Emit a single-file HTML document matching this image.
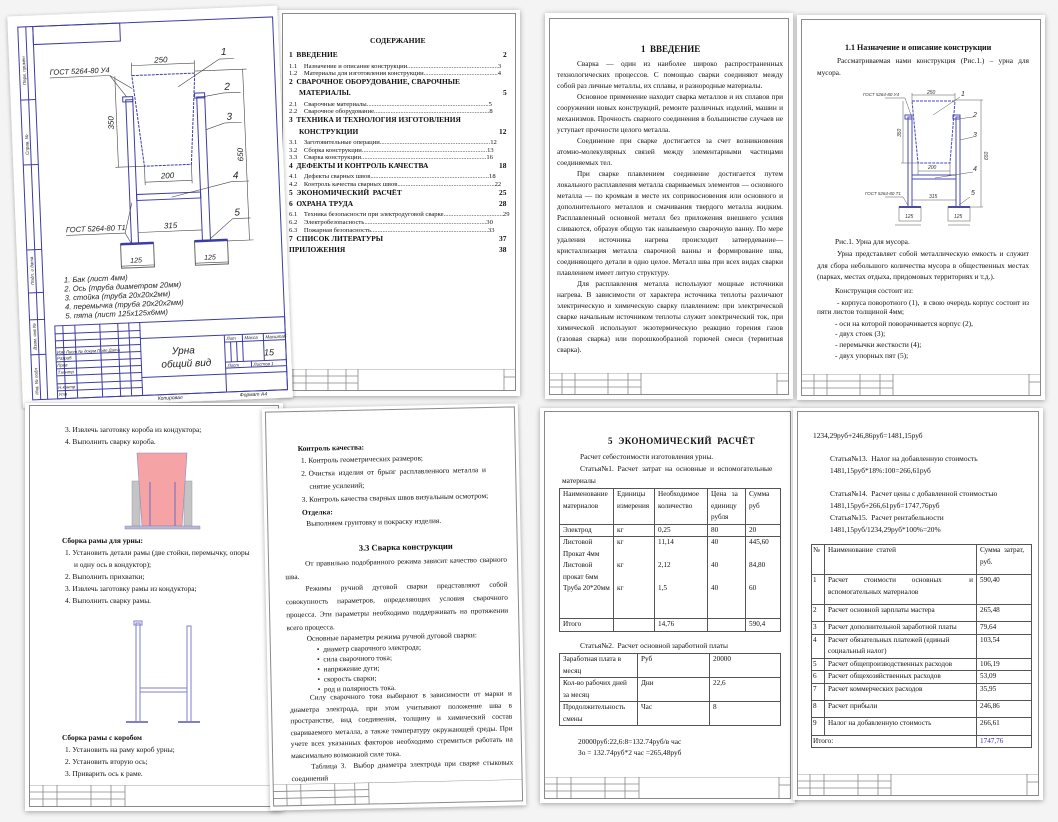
<!DOCTYPE html>
<html><head><meta charset="utf-8">
<style>
*{margin:0;padding:0;box-sizing:border-box}
body{width:1058px;height:822px;background:#f4f4f4;position:relative;overflow:hidden;font-family:"Liberation Serif","Noto Serif CJK SC",serif;color:#111}
.pg{position:absolute;background:#fff;box-shadow:0 1px 5px rgba(0,0,0,.35)}
.fr{position:absolute;border:1px solid #8a8a8a}
.t{position:absolute;white-space:nowrap;font-size:7.4px;line-height:9px}
.b{font-weight:bold}
.p{position:absolute;font-size:7.3px;line-height:11.5px;text-align:justify}
.p .i{display:inline-block;width:20px}
.ft{position:absolute;height:22px}
table{position:absolute;border-collapse:collapse;font-size:7.2px;line-height:11.5px}
td{border:1px solid #555;vertical-align:top;padding:0 3px}
</style></head><body>

<!-- PAGE 2 : TOC -->
<div class="pg" style="left:277px;top:10px;width:243px;height:386px">
 <div class="fr" style="left:5px;top:3px;width:234px;height:378px"></div>
 <div class="t b" style="left:93px;top:26px;font-size:7.6px">СОДЕРЖАНИЕ</div>
 <div class="t b" style="left:12px;top:40px">1&nbsp;&nbsp;ВВЕДЕНИЕ</div><div class="t b" style="left:226px;top:40px">2</div>
 <div class="t" style="left:12px;top:52px;font-size:6.6px">1.1&nbsp;&nbsp;&nbsp;&nbsp;Назначение и описание конструкции.......................................................3</div>
 <div class="t" style="left:12px;top:59px;font-size:6.6px">1.2&nbsp;&nbsp;&nbsp;&nbsp;Материалы для изготовления конструкции.............................................4</div>
 <div class="t b" style="left:12px;top:67px">2&nbsp;&nbsp;СВАРОЧНОЕ ОБОРУДОВАНИЕ, СВАРОЧНЫЕ</div>
 <div class="t b" style="left:22px;top:78px">МАТЕРИАЛЫ.</div><div class="t b" style="left:226px;top:78px">5</div>
 <div class="t" style="left:12px;top:90px;font-size:6.6px">2.1&nbsp;&nbsp;&nbsp;&nbsp;Сварочные материалы..........................................................................5</div>
 <div class="t" style="left:12px;top:97px;font-size:6.6px">2.2&nbsp;&nbsp;&nbsp;&nbsp;Сварочное оборудование......................................................................8</div>
 <div class="t b" style="left:12px;top:105px">3&nbsp;&nbsp;ТЕХНИКА И ТЕХНОЛОГИЯ ИЗГОТОВЛЕНИЯ</div>
 <div class="t b" style="left:22px;top:117px">КОНСТРУКЦИИ</div><div class="t b" style="left:222px;top:117px">12</div>
 <div class="t" style="left:12px;top:128px;font-size:6.6px">3.1&nbsp;&nbsp;&nbsp;&nbsp;Заготовительные операции...................................................................12</div>
 <div class="t" style="left:12px;top:136px;font-size:6.6px">3.2&nbsp;&nbsp;&nbsp;&nbsp;Сборка конструкции............................................................................13</div>
 <div class="t" style="left:12px;top:143px;font-size:6.6px">3.3&nbsp;&nbsp;&nbsp;&nbsp;Сварка конструкции............................................................................16</div>
 <div class="t b" style="left:12px;top:151px">4&nbsp;&nbsp;ДЕФЕКТЫ И КОНТРОЛЬ КАЧЕСТВА</div><div class="t b" style="left:222px;top:151px">18</div>
 <div class="t" style="left:12px;top:162px;font-size:6.6px">4.1&nbsp;&nbsp;&nbsp;&nbsp;Дефекты сварных швов........................................................................18</div>
 <div class="t" style="left:12px;top:170px;font-size:6.6px">4.2&nbsp;&nbsp;&nbsp;&nbsp;Контроль качества сварных швов...........................................................22</div>
 <div class="t b" style="left:12px;top:178px">5&nbsp;&nbsp;ЭКОНОМИЧЕСКИЙ&nbsp; РАСЧЁТ</div><div class="t b" style="left:222px;top:178px">25</div>
 <div class="t b" style="left:12px;top:189px">6&nbsp;&nbsp;ОХРАНА ТРУДА</div><div class="t b" style="left:222px;top:189px">28</div>
 <div class="t" style="left:12px;top:200px;font-size:6.6px">6.1&nbsp;&nbsp;&nbsp;&nbsp;Техника безопасности при электродуговой сварке....................................29</div>
 <div class="t" style="left:12px;top:208px;font-size:6.6px">6.2&nbsp;&nbsp;&nbsp;&nbsp;Электробезопасность..........................................................................30</div>
 <div class="t" style="left:12px;top:216px;font-size:6.6px">6.3&nbsp;&nbsp;&nbsp;&nbsp;Пожарная безопасность.......................................................................33</div>
 <div class="t b" style="left:12px;top:224px">7&nbsp;&nbsp;СПИСОК ЛИТЕРАТУРЫ</div><div class="t b" style="left:222px;top:224px">37</div>
 <div class="t b" style="left:12px;top:235px">ПРИЛОЖЕНИЯ</div><div class="t b" style="left:222px;top:235px">38</div>
 <svg class="ft" style="left:5px;top:359px" width="234" height="22" viewBox="0 0 234 22" preserveAspectRatio="none"><g stroke="#888" stroke-width=".8" fill="none"><line x1="0" y1="0" x2="234" y2="0"/><line x1="0" y1="7" x2="76" y2="7"/><line x1="0" y1="14" x2="76" y2="14"/><line x1="11" y1="0" x2="11" y2="22"/><line x1="24" y1="0" x2="24" y2="22"/><line x1="46" y1="0" x2="46" y2="22"/><line x1="64" y1="0" x2="64" y2="22"/><line x1="76" y1="0" x2="76" y2="22"/><line x1="222" y1="0" x2="222" y2="22"/><line x1="222" y1="8" x2="234" y2="8"/></g></svg>
</div>

<!-- PAGE 1 : Drawing -->
<svg style="position:absolute;left:0;top:0" width="300" height="410" viewBox="0 0 300 410">
 <defs><filter id="sh" x="-5%" y="-5%" width="110%" height="110%"><feDropShadow dx="0" dy="1" stdDeviation="2" flood-opacity=".35"/></filter></defs>
 <g transform="rotate(-2.3 150 205)">
  <rect x="15" y="11" width="270" height="392" fill="#fff" filter="url(#sh)"/>
  <g stroke="#3c3ca8" stroke-width="1" fill="none">
   <rect x="25" y="22" width="255" height="373"/>
   <line x1="33" y1="22" x2="33" y2="395"/><line x1="40" y1="22" x2="40" y2="395"/>
   <line x1="25" y1="95" x2="40" y2="95"/><line x1="25" y1="160" x2="40" y2="160"/><line x1="25" y1="245" x2="40" y2="245"/><line x1="25" y1="288" x2="40" y2="288"/><line x1="25" y1="315" x2="40" y2="315"/><line x1="25" y1="350" x2="40" y2="350"/>
   <rect x="40" y="22" width="87" height="18"/>
   <rect x="50" y="322" width="230" height="73"/>
   <line x1="135" y1="322" x2="135" y2="395"/>
   <line x1="135" y1="338" x2="280" y2="338"/>
   <line x1="135" y1="377" x2="280" y2="377"/>
   <line x1="219" y1="338" x2="219" y2="395"/>
   <line x1="58" y1="322" x2="58" y2="395"/><line x1="70" y1="322" x2="70" y2="395"/><line x1="95" y1="322" x2="95" y2="395"/><line x1="113" y1="322" x2="113" y2="395"/><line x1="124" y1="322" x2="124" y2="395"/>
   <line x1="50" y1="330" x2="135" y2="330"/><line x1="50" y1="337" x2="135" y2="337"/><line x1="50" y1="344" x2="135" y2="344"/><line x1="50" y1="351" x2="135" y2="351"/><line x1="50" y1="358" x2="135" y2="358"/><line x1="50" y1="365" x2="135" y2="365"/><line x1="50" y1="372" x2="135" y2="372"/><line x1="50" y1="380" x2="135" y2="380"/><line x1="50" y1="387" x2="135" y2="387"/>
   <line x1="219" y1="345" x2="280" y2="345"/><line x1="219" y1="365" x2="280" y2="365"/>
   <line x1="225" y1="345" x2="225" y2="365"/><line x1="231" y1="345" x2="231" y2="365"/><line x1="237" y1="338" x2="237" y2="365"/><line x1="258" y1="338" x2="258" y2="365"/><line x1="245" y1="365" x2="245" y2="371"/><line x1="219" y1="371" x2="280" y2="371"/>
   <polygon points="137,75 200,75 193,166 146,166" stroke-dasharray="3 1"/>
   <rect x="130" y="99" width="7" height="144"/><rect x="201" y="99" width="8" height="144"/>
   <rect x="127" y="96" width="10" height="5"/><rect x="199" y="95" width="10" height="5"/>
   <rect x="137" y="194" width="64" height="6"/>
   <rect x="119" y="243" width="33" height="24" stroke="#666"/><rect x="193" y="243" width="33" height="24" stroke="#666"/>
   <line x1="119" y1="243" x2="152" y2="243" stroke-width="2.5"/><line x1="193" y1="243" x2="226" y2="243" stroke-width="2.5"/>
  </g>
  <g stroke="#444" stroke-width=".6" fill="none">
   <line x1="137" y1="75" x2="137" y2="62"/><line x1="200" y1="75" x2="200" y2="62"/><line x1="137" y1="65" x2="200" y2="65"/>
   <line x1="146" y1="166" x2="146" y2="185"/><line x1="193" y1="166" x2="193" y2="185"/><line x1="146" y1="182" x2="193" y2="182"/>
   <line x1="137" y1="232" x2="201" y2="232"/>
   <line x1="200" y1="73" x2="252" y2="73"/><line x1="226" y1="244" x2="252" y2="244"/><line x1="248" y1="73" x2="248" y2="244"/>
   <line x1="120" y1="75" x2="120" y2="166"/><line x1="117" y1="166" x2="146" y2="166"/>
   <line x1="119" y1="265" x2="152" y2="265"/><line x1="193" y1="265" x2="226" y2="265"/>
   <line x1="55" y1="74" x2="115" y2="74"/><line x1="115" y1="74" x2="131" y2="96"/><line x1="115" y1="74" x2="137" y2="88"/>
   <line x1="65" y1="232" x2="124" y2="232"/><line x1="124" y1="232" x2="130" y2="243"/><line x1="124" y1="232" x2="132" y2="202"/>
   <line x1="183" y1="88" x2="225" y2="62"/><line x1="225" y1="62" x2="240" y2="62"/>
   <line x1="207" y1="99" x2="228" y2="96"/><line x1="228" y1="96" x2="245" y2="96"/>
   <line x1="209" y1="132" x2="228" y2="126"/><line x1="228" y1="126" x2="245" y2="126"/>
   <line x1="172" y1="198" x2="232" y2="185"/><line x1="232" y1="185" x2="250" y2="185"/>
   <line x1="209" y1="241" x2="232" y2="222"/><line x1="232" y1="222" x2="250" y2="222"/>
  </g>
  <g font-family="Liberation Sans,sans-serif" font-style="italic" fill="#222" font-size="8">
   <text x="160" y="63">250</text><text x="162" y="179">200</text><text x="163" y="229">315</text>
   <text x="128" y="262" font-size="7">125</text><text x="202" y="262" font-size="7">125</text>
   <text transform="translate(245 165) rotate(-90)">650</text><text transform="translate(117 128) rotate(-90)">350</text>
   <text x="55" y="71" font-size="7.5">ГОСТ 5264-80 У4</text><text x="65" y="229" font-size="7.5">ГОСТ 5264-80 Т1</text>
   <text x="227" y="58" font-size="10">1</text><text x="229" y="93" font-size="10">2</text><text x="230" y="123" font-size="10">3</text><text x="234" y="182" font-size="10">4</text><text x="234" y="219" font-size="10">5</text>
   <text x="61" y="279" font-size="7.6">1. Бак (лист 4мм)</text>
   <text x="61" y="288" font-size="7.6">2. Ось (труба диаметром 20мм)</text>
   <text x="61" y="297" font-size="7.6">3. стойка (труба 20х20х2мм)</text>
   <text x="61" y="306" font-size="7.6">4. перемычка (труба 20х20х2мм)</text>
   <text x="61" y="315" font-size="7.6">5. пята (лист 125х125х6мм)</text>
   <text x="166" y="355" font-size="10">Урна</text><text x="155" y="368" font-size="10">общий вид</text>
   <text x="258" y="360" font-size="9">15</text>
   <text x="221" y="343" font-size="4.5">Лит</text><text x="239" y="343" font-size="4.5">Масса</text><text x="260" y="343" font-size="4.5">Масштаб</text>
   <text x="221" y="370" font-size="4.5">Лист</text><text x="247" y="370" font-size="4.5">Листов 1</text>
   <text x="51" y="350" font-size="4.3">Изм Лист  № докум  Подп Дата</text>
   <text x="51" y="356" font-size="4.3">Разраб</text><text x="51" y="363" font-size="4.3">Пров</text><text x="51" y="370" font-size="4.3">Т.контр</text><text x="51" y="385" font-size="4.3">Н.контр</text><text x="51" y="392" font-size="4.3">Утв</text>
   <text x="150" y="400" font-size="5">Копировал</text><text x="232" y="400" font-size="5">Формат  А4</text>
   <text transform="translate(31 80) rotate(-90)" font-size="4.5">Перв. примен</text>
   <text transform="translate(31 150) rotate(-90)" font-size="4.5">Справ. №</text>
   <text transform="translate(31 280) rotate(-90)" font-size="4.5">Подп. и дата</text>
   <text transform="translate(31 345) rotate(-90)" font-size="4.5">Взам. инв №</text>
   <text transform="translate(31 390) rotate(-90)" font-size="4.5">Инв. № подл</text>
  </g>
 </g>
</svg>

<!-- PAGE 3 : Введение -->
<div class="pg" style="left:545px;top:13px;width:248px;height:386px">
 <div class="fr" style="left:4px;top:5px;width:240px;height:377px"></div>
 <div class="t b" style="left:96px;top:32px;font-size:9px">1&nbsp; ВВЕДЕНИЕ</div>
 <div class="p" style="left:12px;top:45px;width:226px;line-height:11px"><span class="i"></span>Сварка — один из наиболее широко распространенных технологических процессов. С помощью сварки соединяют между собой раз личные металлы, их сплавы, и разнородные материалы.<br><span class="i"></span>Основное применение находит сварка металлов и их сплавов при сооружении новых конструкций, ремонте различных изделий, машин и механизмов. Прочность сварного соединения в большинстве случаев не уступает прочности целого металла.<br><span class="i"></span>Соединение при сварке достигается за счет возникновения атомно-молекулярных связей между элементарными частицами соединяемых тел.<br><span class="i"></span>При сварке плавлением соединение достигается путем локального расплавления металла свариваемых элементов — основного металла — по кромкам в месте их соприкосновения или основного и дополнительного металлов и смачивания твердого металла жидким. Расплавленный основной металл без приложения внешнего усилия сливаются, образуя общую так называемую сварочную ванну. По мере удаления источника нагрева происходит затвердевание—кристаллизация металла сварочной ванны и формирование шва, соединяющего детали в одно целое. Металл шва при всех видах сварки плавлением имеет литую структуру.<br><span class="i"></span>Для расплавления металла используют мощные источники нагрева. В зависимости от характера источника теплоты различают электрическую и химическую сварку плавлением: при электрической сварке начальным источником теплоты служит электрический ток, при химической используют экзотермическую реакцию горения газов (газовая сварка) или порошкообразной горючей смеси (термитная сварка).</div>
 <svg class="ft" style="left:4px;top:360px" width="240" height="22" viewBox="0 0 240 22" preserveAspectRatio="none"><g stroke="#888" stroke-width=".8" fill="none"><line x1="0" y1="0" x2="240" y2="0"/><line x1="0" y1="7" x2="92" y2="7"/><line x1="0" y1="14" x2="92" y2="14"/><line x1="13" y1="0" x2="13" y2="22"/><line x1="26" y1="0" x2="26" y2="22"/><line x1="59" y1="0" x2="59" y2="22"/><line x1="79" y1="0" x2="79" y2="22"/><line x1="92" y1="0" x2="92" y2="22"/><line x1="228" y1="0" x2="228" y2="22"/><line x1="228" y1="8" x2="240" y2="8"/></g></svg>
</div>

<!-- PAGE 4 : 1.1 -->
<div class="pg" style="left:797px;top:15px;width:248px;height:385px">
 <div class="fr" style="left:4px;top:4px;width:240px;height:377px"></div>
 <div class="t b" style="left:48px;top:28px;font-size:8px">1.1 Назначение и описание конструкции</div>
 <div class="p" style="left:20px;top:40px;width:212px"><span class="i"></span>Рассматриваемая нами конструкция (Рис.1.) – урна для мусора.</div>
 <svg style="position:absolute;left:58px;top:70px" width="150" height="150" viewBox="0 0 150 150">
  <g stroke="#4a4ab8" stroke-width="1" fill="none">
   <polygon points="57,16 100,16 95,78 63,78" stroke-dasharray="3 1"/>
   <rect x="53" y="32" width="4" height="90"/><rect x="101" y="32" width="4" height="90"/>
   <rect x="50" y="30" width="7" height="4"/><rect x="98" y="30" width="7" height="4"/>
   <rect x="57" y="90" width="44" height="4"/>
   <line x1="44" y1="122" x2="66" y2="122" stroke-width="2"/><line x1="93" y1="122" x2="115" y2="122" stroke-width="2"/>
  </g>
  <g stroke="#555" stroke-width=".5" fill="none">
   <rect x="44" y="122" width="22" height="14"/><rect x="93" y="122" width="22" height="14"/>
   <line x1="57" y1="10" x2="100" y2="10"/><line x1="57" y1="8" x2="57" y2="16"/><line x1="100" y1="8" x2="100" y2="16"/>
   <line x1="63" y1="78" x2="63" y2="90"/><line x1="95" y1="78" x2="95" y2="90"/><line x1="63" y1="86" x2="95" y2="86"/>
   <line x1="57" y1="115" x2="101" y2="115"/>
   <line x1="100" y1="15" x2="128" y2="15"/><line x1="115" y1="122" x2="128" y2="122"/><line x1="126" y1="15" x2="126" y2="122"/>
   <line x1="48" y1="16" x2="48" y2="78"/><line x1="46" y1="78" x2="63" y2="78"/>
   <line x1="40" y1="140" x2="66" y2="140"/><line x1="93" y1="140" x2="115" y2="140"/>
   <line x1="30" y1="13" x2="50" y2="13"/><line x1="50" y1="13" x2="56" y2="30"/>
   <line x1="30" y1="112" x2="48" y2="112"/><line x1="48" y1="112" x2="54" y2="122"/>
   <line x1="78" y1="30" x2="105" y2="12"/><line x1="103" y1="34" x2="118" y2="32"/><line x1="105" y1="55" x2="118" y2="52"/><line x1="80" y1="93" x2="118" y2="87"/><line x1="104" y1="120" x2="115" y2="112"/>
  </g>
  <g font-family="Liberation Sans,sans-serif" font-style="italic" fill="#333" font-size="5">
   <text x="72" y="9">250</text><text x="73" y="84">200</text><text x="74" y="113">315</text>
   <text x="50" y="133">125</text><text x="99" y="133">125</text>
   <text x="8" y="11" font-size="4.5">ГОСТ 5264-80 У4</text><text x="10" y="110" font-size="4.5">ГОСТ 5264-80 Т1</text>
   <text x="106" y="11" font-size="7">1</text><text x="118" y="32" font-size="7">2</text><text x="118" y="52" font-size="7">3</text><text x="118" y="86" font-size="7">4</text><text x="116" y="110" font-size="7">5</text>
   <text transform="translate(133 75) rotate(-90)">650</text><text transform="translate(46 52) rotate(-90)">350</text>
  </g>
 </svg>
 <div class="t" style="left:38px;top:222px">Рис.1. Урна для мусора.</div>
 <div class="p" style="left:20px;top:233px;width:212px"><span class="i"></span>Урна представляет собой металлическую емкость и служит для сбора небольшого количества мусора в общественных местах (парках, местах отдыха, придомовых территориях и т.д.).</div>
 <div class="t" style="left:38px;top:271px">Конструкция состоит из:</div>
 <div class="p" style="left:20px;top:284px;width:212px;line-height:8.5px"><span class="i"></span>- корпуса поворотного (1),&nbsp; в свою очередь корпус состоит из пяти листов толщиной 4мм;</div>
 <div class="t" style="left:38px;top:304px">- оси на которой поворачивается корпус (2),</div>
 <div class="t" style="left:38px;top:314px">- двух стоек (3);</div>
 <div class="t" style="left:38px;top:325px">- перемычки жесткости (4);</div>
 <div class="t" style="left:38px;top:336px">- двух упорных пят (5);</div>
 <svg class="ft" style="left:4px;top:359px" width="240" height="22" viewBox="0 0 240 22" preserveAspectRatio="none"><g stroke="#888" stroke-width=".8" fill="none"><line x1="0" y1="0" x2="240" y2="0"/><line x1="0" y1="7" x2="92" y2="7"/><line x1="0" y1="14" x2="92" y2="14"/><line x1="13" y1="0" x2="13" y2="22"/><line x1="26" y1="0" x2="26" y2="22"/><line x1="59" y1="0" x2="59" y2="22"/><line x1="79" y1="0" x2="79" y2="22"/><line x1="92" y1="0" x2="92" y2="22"/><line x1="228" y1="0" x2="228" y2="22"/><line x1="228" y1="8" x2="240" y2="8"/></g></svg>
</div>

<!-- PAGE 5 -->
<div class="pg" style="left:25px;top:403px;width:258px;height:408px">
 <div class="fr" style="left:4px;top:2px;width:250px;height:402px"></div>
 <div class="t" style="left:40px;top:22px">3. Извлечь заготовку короба из кондуктора;</div>
 <div class="t" style="left:40px;top:34px">4. Выполнить сварку короба.</div>
 <svg style="position:absolute;left:95px;top:45px" width="90" height="85">
  <rect x="12" y="33" width="8" height="45" fill="#c4c4c4" stroke="#999" stroke-width=".5"/>
  <rect x="64" y="33" width="8" height="45" fill="#c4c4c4" stroke="#999" stroke-width=".5"/>
  <polygon points="17,5 67,5 62,78 22,78" fill="#f6a3a6" stroke="#8888c8" stroke-width=".6"/>
  <line x1="30" y1="34" x2="30" y2="78" stroke="#6a6ac0"/><line x1="55" y1="34" x2="55" y2="78" stroke="#6a6ac0"/>
  <rect x="5" y="78" width="75" height="3" fill="#b8b8d0" stroke="#8888c0" stroke-width=".5"/>
 </svg>
 <div class="t b" style="left:37px;top:133px">Сборка рамы для урны:</div>
 <div class="t" style="left:40px;top:145px">1. Установить детали рамы (две стойки, перемычку, опоры</div>
 <div class="t" style="left:49px;top:157px">и одну ось в кондуктор);</div>
 <div class="t" style="left:40px;top:169px">2. Выполнить прихватки;</div>
 <div class="t" style="left:40px;top:181px">3. Извлечь заготовку рамы из кондуктора;</div>
 <div class="t" style="left:40px;top:193px">4. Выполнить сварку рамы.</div>
 <svg style="position:absolute;left:95px;top:215px" width="85" height="110">
  <g stroke="#7f7fcc" stroke-width="1" fill="none">
   <rect x="16" y="5" width="4" height="99"/><rect x="67" y="8" width="4" height="96"/>
   <rect x="14" y="3" width="8" height="4"/>
   <rect x="20" y="70" width="47" height="4"/>
  </g>
  <line x1="6" y1="104" x2="28" y2="104" stroke="#7f7fcc" stroke-width="2"/>
  <line x1="58" y1="104" x2="80" y2="104" stroke="#7f7fcc" stroke-width="2"/>
 </svg>
 <div class="t b" style="left:37px;top:330px">Сборка рамы с коробом</div>
 <div class="t" style="left:40px;top:342px">1. Установить на раму короб урны;</div>
 <div class="t" style="left:40px;top:354px">2. Установить вторую ось;</div>
 <div class="t" style="left:40px;top:366px">3. Приварить ось к раме.</div>
 <svg class="ft" style="left:4px;top:382px" width="250" height="22" viewBox="0 0 250 22" preserveAspectRatio="none"><g stroke="#888" stroke-width=".8" fill="none"><line x1="0" y1="0" x2="250" y2="0"/><line x1="0" y1="7" x2="96" y2="7"/><line x1="0" y1="14" x2="96" y2="14"/><line x1="14" y1="0" x2="14" y2="22"/><line x1="28" y1="0" x2="28" y2="22"/><line x1="62" y1="0" x2="62" y2="22"/><line x1="82" y1="0" x2="82" y2="22"/><line x1="96" y1="0" x2="96" y2="22"/></g></svg>
</div>

<!-- PAGE 6 -->
<div class="pg" style="left:266px;top:406px;width:256px;height:402px;transform:rotate(-1.2deg)">
 <div class="fr" style="left:3px;top:3px;width:250px;height:395px"></div>
 <div class="t b" style="left:35px;top:36px">Контроль качества:</div>
 <div class="t" style="left:38px;top:48px">1. Контроль геометрических размеров;</div>
 <div class="t" style="left:38px;top:61px">2. Очистка&nbsp; изделия&nbsp; от&nbsp; брызг&nbsp; расплавленного&nbsp; металла&nbsp; и</div>
 <div class="t" style="left:46px;top:74px">снятие усилений;</div>
 <div class="t" style="left:38px;top:87px">3. Контроль качества сварных швов визуальным осмотром;</div>
 <div class="t b" style="left:38px;top:100px">Отделка:</div>
 <div class="t" style="left:42px;top:111px">Выполняем грунтовку и покраску изделия.</div>
 <div class="t b" style="left:94px;top:137px;font-size:8.5px">3.3 Сварка конструкции</div>
 <div class="p" style="left:20px;top:150px;width:222px;line-height:12.7px"><span class="i"></span>От правильно подобранного режима зависит качество сварного шва.<br><span class="i"></span>Режимы ручной дуговой сварки представляют собой совокупность параметров, определяющих условия сварочного процесса. Эти параметры необходимо поддерживать на протяжении всего процесса.</div>
 <div class="t" style="left:40px;top:226px">Основные параметры режима ручной дуговой сварки:</div>
 <div class="t" style="left:50px;top:237px">•&nbsp; диаметр сварочного электрода;</div>
 <div class="t" style="left:50px;top:247px">•&nbsp; сила сварочного тока;</div>
 <div class="t" style="left:50px;top:257px">•&nbsp; напряжение дуги;</div>
 <div class="t" style="left:50px;top:267px">•&nbsp; скорость сварки;</div>
 <div class="t" style="left:50px;top:277px">•&nbsp; род и полярность тока.</div>
 <div class="p" style="left:22px;top:284px;width:222px"><span class="i"></span>Силу сварочного тока выбирают в зависимости от марки и диаметра электрода, при этом учитывают положение шва в пространстве, вид соединения, толщину и химический состав свариваемого металла, а также температуру окружающей среды. При учете всех указанных факторов необходимо стремиться работать на максимально возможной силе тока.<br><span class="i"></span>Таблица 3.&nbsp; Выбор диаметра электрода при сварке стыковых соединений</div>
 <svg class="ft" style="left:3px;top:376px" width="250" height="22" viewBox="0 0 250 22" preserveAspectRatio="none"><g stroke="#888" stroke-width=".8" fill="none"><line x1="0" y1="0" x2="250" y2="0"/><line x1="0" y1="7" x2="96" y2="7"/><line x1="0" y1="14" x2="96" y2="14"/><line x1="14" y1="0" x2="14" y2="22"/><line x1="28" y1="0" x2="28" y2="22"/><line x1="62" y1="0" x2="62" y2="22"/><line x1="82" y1="0" x2="82" y2="22"/><line x1="96" y1="0" x2="96" y2="22"/></g></svg>
</div>

<!-- PAGE 7 -->
<div class="pg" style="left:540px;top:408px;width:255px;height:395px">
 <div class="fr" style="left:4px;top:3px;width:247px;height:388px"></div>
 <div class="t b" style="left:68px;top:29px;font-size:9px;letter-spacing:.4px">5&nbsp; ЭКОНОМИЧЕСКИЙ&nbsp; РАСЧЁТ</div>
 <div class="t" style="left:40px;top:44px">Расчет себестоимости изготовления урны.</div>
 <div class="t" style="left:40px;top:56px">Статья№1.&nbsp; Расчет&nbsp; затрат&nbsp; на&nbsp; основные&nbsp; и&nbsp; вспомогательные</div>
 <div class="t" style="left:22px;top:68px">материалы</div>
 <table style="left:19px;top:80px;width:222px">
  <tr style="height:35px"><td style="width:54px">Наименование материалов</td><td style="width:41px">Единицы измерения</td><td style="width:53px">Необходимое количество</td><td style="width:38px">Цена&nbsp;&nbsp; за единицу рубля</td><td>Сумма руб</td></tr>
  <tr style="height:12px"><td>Электрод</td><td>кг</td><td>0,25</td><td>80</td><td>20</td></tr>
  <tr style="height:82px"><td>Листовой Прокат 4мм Листовой прокат 6мм Труба 20*20мм</td><td>кг<br><br>кг<br><br>кг</td><td>11,14<br><br>2,12<br><br>1,5</td><td>40<br><br>40<br><br>40</td><td>445,60<br><br>84,80<br><br>60</td></tr>
  <tr style="height:13px"><td>Итого</td><td></td><td>14,76</td><td></td><td>590,4</td></tr>
 </table>
 <div class="t" style="left:40px;top:233px">Статья№2.&nbsp; Расчет основной заработной платы</div>
 <table style="left:19px;top:245px;width:222px">
  <tr style="height:24px"><td style="width:78px">Заработная плата в месяц</td><td style="width:72px">Руб</td><td>20000</td></tr>
  <tr style="height:23px"><td>Кол-во рабочих дней за месяц</td><td>Дни</td><td>22,6</td></tr>
  <tr style="height:24px"><td>Продолжительность смены</td><td>Час</td><td>8</td></tr>
 </table>
 <div class="t" style="left:38px;top:329px">20000руб:22,6:8=132.74руб/в час</div>
 <div class="t" style="left:38px;top:340px">Зо = 132.74руб*2 час =265,48руб</div>
 <svg class="ft" style="left:4px;top:369px" width="247" height="22" viewBox="0 0 247 22" preserveAspectRatio="none"><g stroke="#888" stroke-width=".8" fill="none"><line x1="0" y1="0" x2="247" y2="0"/><line x1="0" y1="7" x2="95" y2="7"/><line x1="0" y1="14" x2="95" y2="14"/><line x1="13" y1="0" x2="13" y2="22"/><line x1="27" y1="0" x2="27" y2="22"/><line x1="61" y1="0" x2="61" y2="22"/><line x1="81" y1="0" x2="81" y2="22"/><line x1="95" y1="0" x2="95" y2="22"/><line x1="235" y1="0" x2="235" y2="22"/><line x1="235" y1="8" x2="247" y2="8"/></g></svg>
</div>

<!-- PAGE 8 -->
<div class="pg" style="left:793px;top:408px;width:250px;height:392px">
 <div class="fr" style="left:4px;top:3px;width:242px;height:385px"></div>
 <div class="t" style="left:20px;top:23px">1234,29руб+246,86руб=1481,15руб</div>
 <div class="t" style="left:37px;top:46px">Статья№13.&nbsp; Налог на добавленную стоимость</div>
 <div class="t" style="left:37px;top:58px">1481,15руб*18%:100=266,61руб</div>
 <div class="t" style="left:37px;top:81px">Статья№14.&nbsp; Расчет цены с добавленной стоимостью</div>
 <div class="t" style="left:37px;top:93px">1481,15руб+266,61руб=1747,76руб</div>
 <div class="t" style="left:37px;top:105px">Статья№15.&nbsp; Расчет рентабельности</div>
 <div class="t" style="left:37px;top:117px">1481,15руб/1234,29руб*100%=20%</div>
 <table style="left:18px;top:136px;width:221px">
  <tr style="height:30px"><td style="width:13px;padding:0 1px">№</td><td style="width:152px">Наименование&nbsp; статей</td><td>Сумма&nbsp; затрат, руб.</td></tr>
  <tr style="height:30px"><td style="padding:0 1px">1</td><td style="text-align:justify;text-align-last:left">Расчет&nbsp;&nbsp;&nbsp; стоимости&nbsp;&nbsp;&nbsp; основных&nbsp;&nbsp;&nbsp;&nbsp;&nbsp;&nbsp; и вспомогательных материалов</td><td>590,40</td></tr>
  <tr style="height:17px"><td style="padding:0 1px">2</td><td>Расчет основной зарплаты мастера</td><td>265,48</td></tr>
  <tr style="height:12px"><td style="padding:0 1px">3</td><td>Расчет дополнительной заработной платы</td><td>79,64</td></tr>
  <tr style="height:23px"><td style="padding:0 1px">4</td><td>Расчет обязательных платежей (единый социальный налог)</td><td>103,54</td></tr>
  <tr style="height:12px"><td style="padding:0 1px">5</td><td>Расчет общепроизводственных расходов</td><td>106,19</td></tr>
  <tr style="height:12px"><td style="padding:0 1px">6</td><td>Расчет общехозяйственных расходов</td><td>53,09</td></tr>
  <tr style="height:17px"><td style="padding:0 1px">7</td><td>Расчет коммерческих расходов</td><td>35,95</td></tr>
  <tr style="height:17px"><td style="padding:0 1px">8</td><td>Расчет прибыли</td><td>246,86</td></tr>
  <tr style="height:18px"><td style="padding:0 1px">9</td><td>Налог на добавленную стоимость</td><td>266,61</td></tr>
  <tr style="height:12px"><td colspan="2" style="padding:0 1px">Итого:</td><td style="color:#3030b0">1747,76</td></tr>
 </table>
 <svg class="ft" style="left:4px;top:366px" width="242" height="22" viewBox="0 0 242 22" preserveAspectRatio="none"><g stroke="#888" stroke-width=".8" fill="none"><line x1="0" y1="0" x2="242" y2="0"/><line x1="0" y1="7" x2="94" y2="7"/><line x1="0" y1="14" x2="94" y2="14"/><line x1="13" y1="0" x2="13" y2="22"/><line x1="27" y1="0" x2="27" y2="22"/><line x1="61" y1="0" x2="61" y2="22"/><line x1="81" y1="0" x2="81" y2="22"/><line x1="94" y1="0" x2="94" y2="22"/><line x1="230" y1="0" x2="230" y2="22"/><line x1="230" y1="8" x2="242" y2="8"/></g></svg>
</div>

</body></html>
